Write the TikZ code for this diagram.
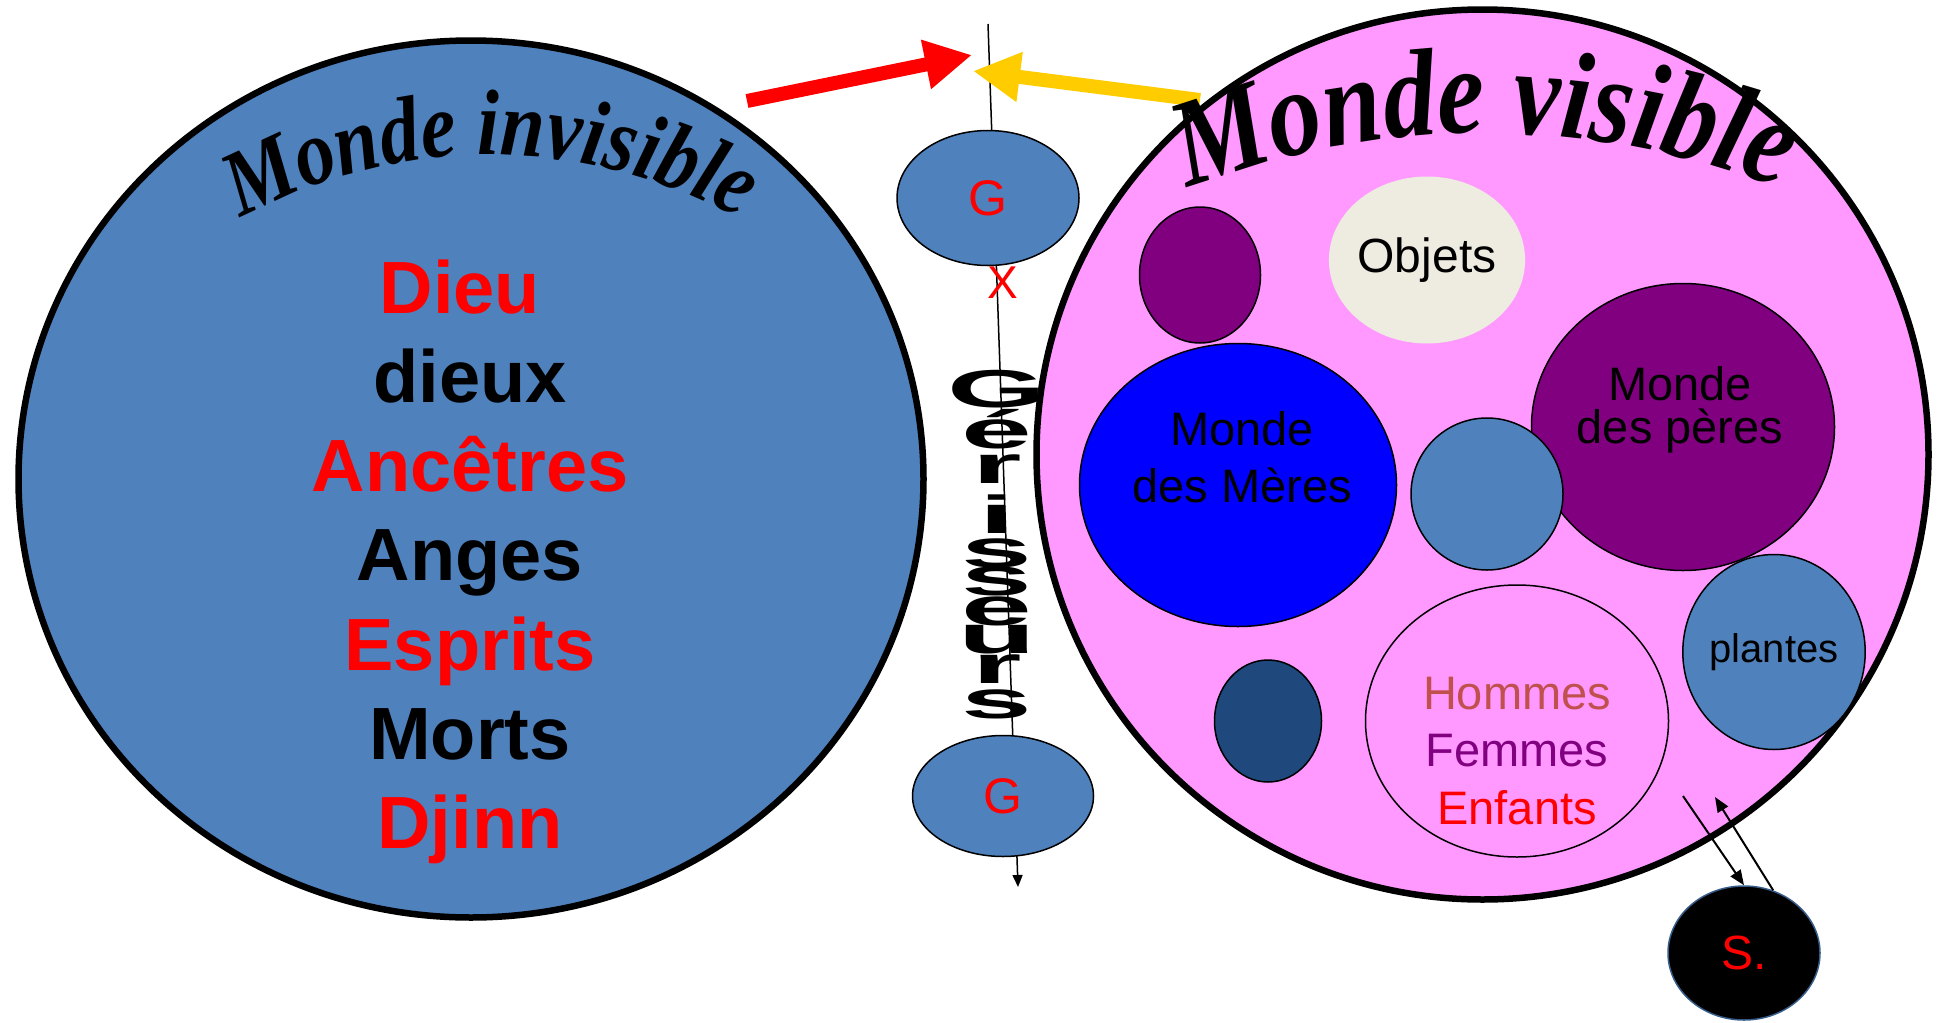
\documentclass[tikz,border=0pt]{standalone}
\usepackage{fontspec}
\setmainfont{Liberation Sans}
\newfontfamily\titlefont{Liberation Serif}[FakeStretch=0.85]
\usetikzlibrary{shapes.geometric, arrows.meta, decorations.text}
\definecolor{steel}{HTML}{4F81BD}
\definecolor{rose}{HTML}{FF99FF}
\definecolor{mauve}{HTML}{800080}
\definecolor{beige}{HTML}{EEECE1}
\definecolor{navy}{HTML}{1F497D}
\definecolor{brique}{HTML}{C0504D}
\definecolor{jaune}{HTML}{FFCC00}
\definecolor{sbord}{HTML}{385D8A}
\newcommand\squash[1]{\scalebox{1.38}[0.58]{#1}}

\begin{document}
\begin{tikzpicture}[x=1pt, y=-1pt, node distance=89.33pt,
  monde/.style={draw, ellipse, line width=6.5pt, inner sep=0pt},
  bulle/.style={draw, ellipse, line width=1.5pt, inner sep=0pt},
  liste/.style={inner sep=0pt, text height=53pt, text depth=0pt, font=\bfseries\fontsize{74}{74}\selectfont},
  lettre/.style={anchor=base, inner sep=0pt, font=\bfseries\fontsize{92}{92}\selectfont},
  gros/.style={line width=14pt, -{Triangle[length=47pt, width=47pt]}},
  fin/.style={line width=2pt, -{Triangle[length=15pt, width=12pt]}}]
\useasboundingbox (0,0) rectangle (1939,1023);

% monde invisible
\node  (invisible)[monde, fill=steel, minimum width=905pt, minimum height=877pt] at (471,479) {};
\path[decorate, decoration={text along path, text align=center,
  text={|\titlefont\bfseries\itshape\fontsize{93}{93}\selectfont|Monde invisible}}]
  (214.4,234) .. controls (383,128.6) and (597,128.6) .. (765.6,234);
\node  (dieu)[liste, text=red] at (460,286.5) {Dieu};
\node  (dieux)[liste] [  below   of = dieu, xshift=10pt] {dieux};
\node  (ancetres)[liste, text=red] [  below  of = dieux] {Ancêtres};
\node  (anges)[liste] [  below  of = ancetres] {Anges};
\node  (esprits)[liste, text=red] [  below  of = anges] {Esprits};
\node  (morts)[liste] [  below  of = esprits] {Morts};
\node  (djinn)[liste, text=red] [  below  of = morts] {Djinn};

% axe des guerisseurs
\coordinate (haut) at (988,24);
\coordinate (bas) at (1018,887);
\draw[line width=1.5pt, -{Triangle[length=12pt, width=10pt]}] (haut) -- (bas);
\node  (gtop)[bulle, fill=steel, minimum width=182pt, minimum height=135pt, text=red, font=\fontsize{50}{50}\selectfont] at (988,198) {G};
\node  (gbot)[bulle, fill=steel, minimum width=181pt, minimum height=121pt, text=red, font=\fontsize{50}{50}\selectfont] at (1003,796) {G};
\node  (croix)[inner sep=0pt, text=red, font=\fontsize{46}{46}\selectfont] at (1003,283) {X};

% monde visible
\node  (visible)[monde, fill=rose, minimum width=892pt, minimum height=890pt] at (1482.5,454.5) {};
\node  (p1)[bulle, fill=mauve, minimum width=121pt, minimum height=136pt] at (1200,275) {};
\node  (objets)[ellipse, fill=beige, inner sep=0pt, minimum width=183pt, minimum height=167pt, font=\fontsize{48}{48}\selectfont] at (1427,260) {Objets};
\node  (meres)[bulle, fill=blue, minimum width=317pt, minimum height=283pt] at (1238,485) {};
\node  (meresTxt)[align=center, inner sep=0pt, font=\fontsize{47}{57}\selectfont] at (1242,457) {Monde\\des Mères};
\node  (peres)[bulle, fill=mauve, minimum width=303pt, minimum height=287pt] at (1683,427) {};
\node  (peresTxt)[align=center, inner sep=0pt, font=\fontsize{47}{43}\selectfont] at (1680,410) {Monde\\des pères};
\node  (p2)[bulle, fill=steel, minimum width=152pt, minimum height=152pt] at (1487,494) {};
\node  (plantes)[bulle, fill=steel, minimum width=182pt, minimum height=195pt, font=\fontsize{40}{40}\selectfont] at (1774,652) {plantes};
\node  (p3)[bulle, fill=navy, minimum width=107pt, minimum height=122pt] at (1268,721) {};
\node  (humains)[bulle, fill=rose, minimum width=303pt, minimum height=272pt] at (1517,721) {};
\node  (humainsTxt)[align=center, inner sep=0pt, font=\fontsize{47}{57.5}\selectfont] at (1517,751) {\textcolor{brique}{Hommes}\\\textcolor{mauve}{Femmes}\\\textcolor{red}{Enfants}};

% sorcier
\node  (s)[ellipse, fill=black, draw=sbord, line width=1.5pt, inner sep=0pt, minimum width=152pt, minimum height=134pt, text=red, font=\fontsize{48}{48}\selectfont] at (1744,953) {S.};
\coordinate (vers) at (1683,796);
\coordinate (depuis) at (1715,797);
\draw[fin] (vers) -- (s.north);
\draw[fin] (s.65) -- (depuis);

% fleches
\coordinate (rq) at (747,101);
\coordinate (rp) at (972,55);
\coordinate (jq) at (1200,100);
\coordinate (jp) at (973,71);
\draw[gros, red] (rq) -- (rp);
\draw[gros, jaune] (jq) -- (jp);

\path[decorate, decoration={text along path, text align=center,
  text={|\titlefont\bfseries\itshape\fontsize{124}{124}\selectfont|Monde visible}}]
  (1150.5,203.9) .. controls (1362.8,109.4) and (1605.2,109.4) .. (1817.5,203.9);

% Gerisseurs
\node  (l1)[lettre] at (997,407) {\squash{G}};
\node  (l2)[lettre] at (997,448) {\squash{é}};
\node  (l3)[lettre] at (997,483) {\squash{r}};
\node  (l4)[lettre] at (997,533) {\squash{i}};
\node  (l5)[lettre] at (997,567) {\squash{s}};
\node  (l6)[lettre] at (997,595) {\squash{s}};
\node  (l7)[lettre] at (997,625) {\squash{e}};
\node  (l8)[lettre] at (997,653) {\squash{u}};
\node  (l9)[lettre] at (997,683) {\squash{r}};
\node  (l10)[lettre] at (997,718) {\squash{s}};
\end{tikzpicture}
\end{document}
